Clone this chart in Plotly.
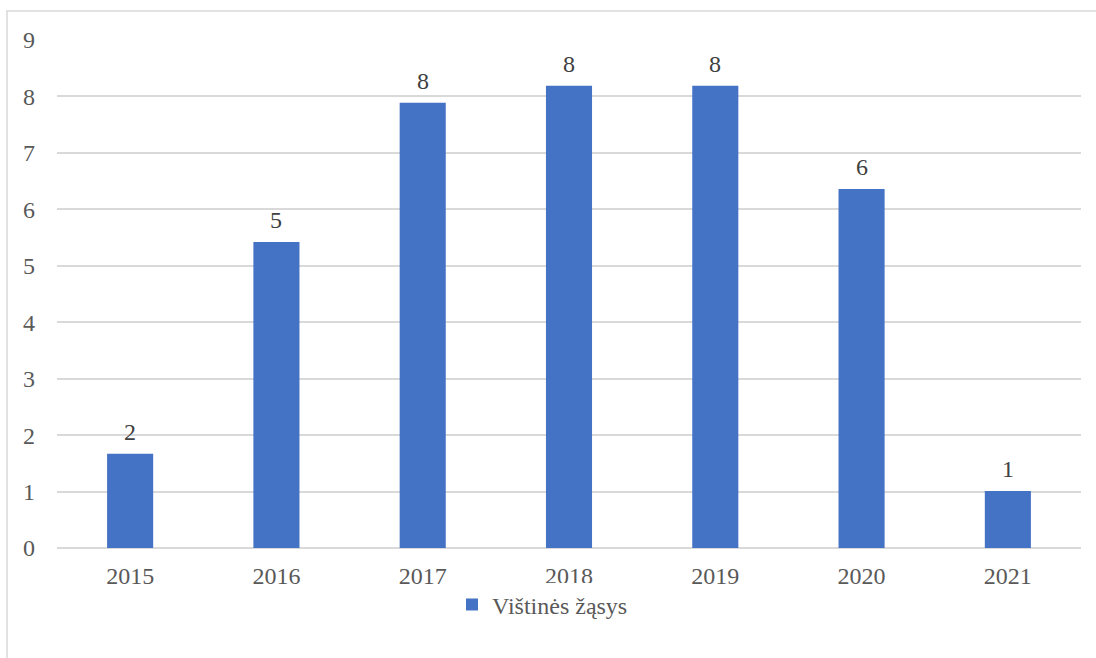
import plotly.graph_objects as go

years = ["2015", "2016", "2017", "2018", "2019", "2020", "2021"]
values = [1.67, 5.42, 7.89, 8.19, 8.19, 6.36, 1.01]
labels = ["2", "5", "8", "8", "8", "6", "1"]
series_name = "Vištinės žąsys"

FONT = "Liberation Serif"
FS = 24

fig = go.Figure()
fig.add_trace(go.Bar(
    x=years, y=values, name=series_name,
    marker=dict(color="#4472C4", line=dict(width=0)),
))

# data labels: category index positions on the category axis
for i, (v, lab) in enumerate(zip(values, labels)):
    fig.add_annotation(x=i, y=v, text=lab, showarrow=False, yanchor="bottom",
                       yshift=7, font=dict(family=FONT, size=FS, color="#404040"))

W, H = 1096, 658
L, R, T, B = 57, 15, 40, 110
pw, ph = W - L - R, H - T - B

def px_x(x):
    return (x - L) / pw

def px_y(y):
    return (H - B - y) / ph

fig.add_shape(type="rect", xref="paper", yref="paper",
              x0=px_x(7), x1=px_x(1100), y0=px_y(670), y1=px_y(11),
              line=dict(color="#d9d9d9", width=1.5), fillcolor="rgba(0,0,0,0)",
              layer="below")

fig.update_layout(
    width=W, height=H,
    margin=dict(l=L, r=R, t=T, b=B),
    paper_bgcolor="white", plot_bgcolor="white",
    bargap=0.685,
    font=dict(family=FONT, size=FS, color="#595959"),
    showlegend=True,
    legend=dict(orientation="h", x=px_x(452), xanchor="left", y=px_y(605), yanchor="middle",
                font=dict(family=FONT, size=FS, color="#595959"),
                itemwidth=30),
)
fig.update_xaxes(type="category", showgrid=False, showline=False, ticks="",
                 tickfont=dict(family=FONT, size=FS, color="#595959"),
                 ticklabelstandoff=11)
fig.update_yaxes(range=[0, 9], dtick=1, showgrid=True, gridcolor="#d9d9d9", gridwidth=1.5,
                 zeroline=True, zerolinecolor="#d9d9d9", zerolinewidth=1.5,
                 showline=False, ticks="", tickfont=dict(family=FONT, size=FS, color="#595959"),
                 ticklabelstandoff=21)

fig.write_html("out.html", config={"displayModeBar": False},
               post_script="document.body.style.margin='0';document.body.style.overflow='hidden';")
